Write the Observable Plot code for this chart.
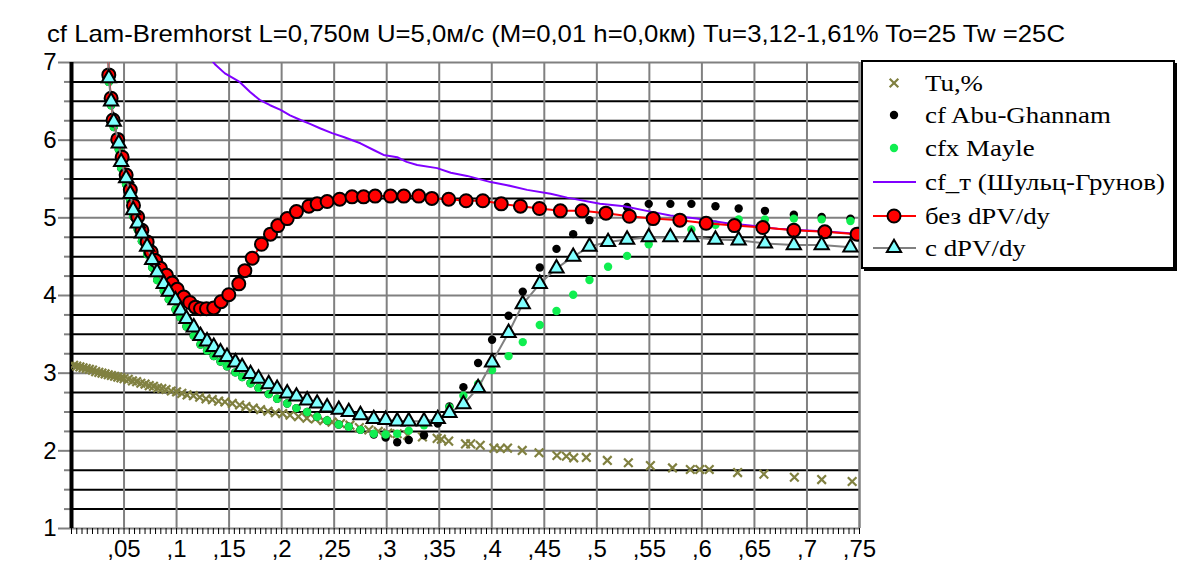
<!DOCTYPE html>
<html><head><meta charset="utf-8">
<script src="https://cdn.jsdelivr.net/npm/d3@7"></script>
<script src="https://cdn.jsdelivr.net/npm/@observablehq/plot@0.6"></script>
<style>
body{margin:0;background:#fff;}
#wrap{position:relative;width:1194px;height:571px;overflow:hidden;background:#fff;font-family:"Liberation Sans",Arial,sans-serif;}
#title{position:absolute;left:0;top:0;}
#chart{position:absolute;left:0;top:52px;}
#legend{position:absolute;left:861px;top:60px;}
</style></head><body>
<div id="wrap">
<div id="title"></div>
<div id="chart"></div>
<div id="legend"></div>
</div>
<script>
const titleText = "cf Lam-Bremhorst L=0,750м U=5,0м/с (M=0,01 h=0,0км) Tu=3,12-1,61% To=25 Tw =25C";

// ---- axis ticks ----
const xTicks = [0.05,0.1,0.15,0.2,0.25,0.3,0.35,0.4,0.45,0.5,0.55,0.6,0.65,0.7,0.75];
const xTickLabels = [",05",",1",",15",",2",",25",",3",",35",",4",",45",",5",",55",",6",",65",",7",",75"];
const yTicks = [1,2,3,4,5,6,7];
const yQuarterTicks = [1.25,1.5,1.75,2.25,2.5,2.75,3.25,3.5,3.75,4.25,4.5,4.75,5.25,5.5,5.75,6.25,6.5,6.75];

// ---- series: Tu,% ----
const tuX = [0.002,0.005,0.008,0.011,0.014,0.017,0.020,0.023,0.026,0.029,0.032,0.035,0.038,0.041,0.044,0.047,0.050,0.054,0.058,0.062,0.066,0.070,0.074,0.078,0.082,0.086,0.090,0.095,0.100,0.105,0.110,0.116,0.122,0.128,0.134,0.140,0.146,0.153,0.160,0.166,0.173,0.180,0.187,0.194,0.201,0.208,0.216,0.224,0.232,0.240,0.248,0.256,0.265,0.274,0.283,0.292,0.301,0.310,0.320,0.334,0.348,0.352,0.359,0.375,0.380,0.389,0.402,0.408,0.415,0.429,0.445,0.462,0.471,0.478,0.490,0.510,0.530,0.551,0.572,0.589,0.598,0.607,0.634,0.659,0.688,0.714,0.743];
const tuY = [3.10,3.09,3.08,3.07,3.06,3.05,3.04,3.02,3.01,3.00,2.99,2.98,2.97,2.96,2.95,2.94,2.93,2.92,2.90,2.89,2.87,2.86,2.84,2.83,2.81,2.80,2.79,2.77,2.76,2.74,2.72,2.71,2.69,2.67,2.66,2.64,2.63,2.61,2.59,2.57,2.55,2.53,2.51,2.49,2.48,2.46,2.44,2.42,2.41,2.39,2.37,2.35,2.33,2.30,2.27,2.25,2.23,2.22,2.20,2.18,2.16,2.15,2.125,2.09,2.09,2.07,2.035,2.03,2.035,2.005,1.975,1.94,1.93,1.91,1.915,1.876,1.847,1.81,1.78,1.76,1.76,1.76,1.72,1.70,1.66,1.63,1.605];

// ---- shared x for triangles / Abu-Ghannam / Mayle ----
const triX = [0.0345,0.0355,0.0377,0.0402,0.0450,0.0473,0.0520,0.0560,0.0587,0.0630,0.0670,0.0720,0.0768,0.0815,0.0878,0.0926,0.0990,0.1037,0.1094,0.1164,0.1228,0.1290,0.1354,0.1418,0.1480,0.1560,0.1624,0.1704,0.1780,0.1877,0.1957,0.2053,0.2141,0.2243,0.2338,0.2433,0.2544,0.2639,0.2750,0.2877,0.2990,0.3100,0.3210,0.3355,0.3486,0.3597,0.3730,0.3870,0.4003,0.4160,0.4295,0.4457,0.4616,0.4775,0.4930,0.5107,0.5288,0.5494,0.5700,0.5900,0.6129,0.6350,0.6600,0.6875,0.7140,0.7414];
// с dPV/dy
const triY = [7.40,6.80,6.50,6.24,5.96,5.72,5.51,5.31,5.10,4.93,4.80,4.63,4.46,4.30,4.15,4.05,3.94,3.81,3.70,3.59,3.48,3.41,3.34,3.27,3.21,3.14,3.08,2.99,2.93,2.86,2.80,2.74,2.70,2.65,2.61,2.56,2.53,2.50,2.46,2.41,2.40,2.38,2.38,2.38,2.41,2.49,2.60,2.81,3.14,3.52,3.89,4.15,4.35,4.50,4.63,4.69,4.72,4.75,4.75,4.75,4.72,4.71,4.67,4.65,4.65,4.62];
// cfx Mayle
const mayleY = [7.40,6.75,6.45,6.17,5.88,5.64,5.43,5.22,5.02,4.85,4.70,4.53,4.36,4.20,4.06,3.95,3.82,3.72,3.60,3.48,3.37,3.29,3.22,3.15,3.09,3.01,2.95,2.87,2.81,2.73,2.67,2.61,2.55,2.50,2.44,2.39,2.34,2.31,2.27,2.22,2.21,2.22,2.26,2.33,2.42,2.56,2.71,2.86,3.04,3.22,3.40,3.62,3.80,4.01,4.20,4.37,4.51,4.66,4.77,4.85,4.91,4.98,4.98,4.99,4.98,4.96];
// cf Abu-Ghannam
const abuY = [7.40,6.75,6.45,6.17,5.88,5.64,5.43,5.22,5.02,4.85,4.70,4.53,4.36,4.20,4.06,3.95,3.82,3.72,3.60,3.48,3.37,3.29,3.22,3.15,3.09,3.01,2.95,2.87,2.81,2.73,2.67,2.61,2.55,2.50,2.44,2.39,2.34,2.31,2.27,2.21,2.17,2.11,2.14,2.20,2.35,2.57,2.82,3.13,3.43,3.74,4.05,4.36,4.60,4.79,4.97,5.08,5.14,5.18,5.18,5.18,5.15,5.12,5.09,5.04,5.01,4.99];

// ---- без dPV/dy ----
const redX = [0.0345,0.0355,0.0377,0.0396,0.0440,0.0482,0.0520,0.0560,0.0590,0.0630,0.0670,0.0720,0.0758,0.0800,0.0847,0.0904,0.0958,0.1006,0.1069,0.1126,0.1180,0.1228,0.1285,0.1354,0.1424,0.1497,0.1592,0.1650,0.1720,0.1808,0.1894,0.1964,0.2053,0.2141,0.2259,0.2338,0.2433,0.2553,0.2670,0.2780,0.2890,0.3036,0.3163,0.3305,0.3430,0.3590,0.3756,0.3915,0.4090,0.4273,0.4454,0.4653,0.4860,0.5087,0.5310,0.5536,0.5790,0.6040,0.6310,0.6580,0.6875,0.7170,0.7477];
const redY = [7.40,6.84,6.54,6.26,6.01,5.78,5.55,5.36,5.16,5.01,4.84,4.69,4.56,4.45,4.35,4.26,4.16,4.08,3.98,3.91,3.85,3.83,3.83,3.84,3.92,4.01,4.15,4.32,4.48,4.66,4.79,4.90,4.99,5.08,5.15,5.18,5.21,5.24,5.27,5.27,5.28,5.28,5.28,5.28,5.25,5.24,5.22,5.22,5.18,5.15,5.12,5.09,5.09,5.06,5.02,4.99,4.97,4.93,4.90,4.875,4.84,4.82,4.79];

// ---- cf_т (Шульц-Грунов) ----
const sgX = [0.128,0.137,0.146,0.151,0.160,0.170,0.179,0.189,0.199,0.208,0.218,0.227,0.237,0.248,0.259,0.275,0.288,0.297,0.310,0.319,0.329,0.348,0.361,0.3765,0.399,0.4147,0.4337,0.456,0.4718,0.503,0.526,0.551,0.570,0.595,0.624,0.646,0.672,0.697,0.722,0.750];
const sgY = [7.12,6.97,6.86,6.82,6.75,6.62,6.52,6.45,6.39,6.32,6.26,6.21,6.15,6.09,6.04,5.96,5.87,5.81,5.78,5.72,5.68,5.64,5.58,5.54,5.46,5.42,5.36,5.31,5.26,5.18,5.15,5.08,5.03,4.99,4.93,4.90,4.86,4.84,4.82,4.79];

const legendItems = ["Tu,%","cf Abu-Ghannam","cfx Mayle","cf_т (Шульц-Грунов)","без dPV/dy","с dPV/dy"];

// colours
const cTu = "#808040", cAbu = "#000000", cMayle = "#10EE50", cSG = "#8000FF", cRed = "#FF0000", cGrey = "#808080", cTri = "#80FFFF";

// ---- title ----
const ts = d3.create("svg").attr("width", 1194).attr("height", 52);
ts.append("text").attr("x", 47).attr("y", 42)
  .attr("textLength", 1018).attr("lengthAdjust", "spacingAndGlyphs")
  .style("font-family", "'Liberation Sans', Arial, sans-serif").style("font-size", "24px")
  .text(titleText);
document.getElementById("title").appendChild(ts.node());

const pts = (xs, ys) => xs.map((x, i) => ({x, y: ys[i]}));
const tu = pts(tuX, tuY), tri = pts(triX, triY), mayle = pts(triX, mayleY), abu = pts(triX, abuY), red = pts(redX, redY), sg = pts(sgX, sgY);
const xMinor = d3.range(0, 151).map(i => i * 0.005);

const chart = Plot.plot({
  width: 1194, height: 519,
  marginTop: 10, marginBottom: 43, marginLeft: 71, marginRight: 335,
  x: {domain: [0, 0.75]},
  y: {domain: [1, 7]},
  style: {fontFamily: "'Liberation Sans', Arial, sans-serif", fontSize: "20px", background: "white", color: "black", overflow: "visible"},
  marks: [
    Plot.gridY(yQuarterTicks, {stroke: "black", strokeOpacity: 1, strokeWidth: 2}),
    Plot.gridX(xTicks, {stroke: cGrey, strokeOpacity: 1, strokeWidth: 2}),
    Plot.gridY(yTicks, {stroke: cGrey, strokeOpacity: 1, strokeWidth: 2}),
    Plot.ruleX([0.75], {stroke: cGrey, strokeWidth: 2}),
    Plot.axisY(yQuarterTicks, {label: null, tickSize: 7, stroke: cGrey, strokeWidth: 2, tickFormat: () => ""}),
    Plot.axisY(yTicks, {label: null, tickSize: 13, tickPadding: 2, stroke: cGrey, strokeWidth: 2, fill: "black", fontSize: 24, tickFormat: d => String(d)}),
    Plot.axisX(xMinor, {label: null, tickSize: 6, stroke: "black", strokeWidth: 1, tickFormat: () => ""}),
    Plot.axisX(xTicks, {label: null, tickSize: 0, tickPadding: 11, fill: "black", fontSize: 24, tickFormat: d => xTickLabels[xTicks.indexOf(d)]}),
    Plot.ruleX([0], {stroke: "black", strokeWidth: 4}),
    // data
    Plot.dot(tu, {x: "x", y: "y", symbol: "times", r: 4, stroke: cTu, strokeWidth: 2.2, clip: true}),
    Plot.dot(abu, {x: "x", y: "y", r: 4.2, fill: cAbu, stroke: null, clip: true}),
    Plot.dot(mayle, {x: "x", y: "y", r: 4.2, fill: cMayle, stroke: null, clip: true}),
    Plot.line(sg, {x: "x", y: "y", stroke: cSG, strokeWidth: 2, clip: true}),
    Plot.line(red, {x: "x", y: "y", stroke: cRed, strokeWidth: 2, clip: true}),
    Plot.dot(red, {x: "x", y: "y", r: 6.5, fill: cRed, stroke: "black", strokeWidth: 2, clip: true}),
    Plot.line(tri, {x: "x", y: "y", stroke: cGrey, strokeWidth: 2, clip: true}),
    Plot.dot(tri, {x: "x", y: "y", symbol: "triangle", r: 5.3, fill: cTri, stroke: "black", strokeWidth: 2, clip: true})
  ]
});
document.getElementById("chart").appendChild(chart);

// ---- legend ----
const lw = 313, lh = 208;
const ls = d3.create("svg").attr("width", lw + 4).attr("height", lh + 4)
  .style("font-family", "'Liberation Serif', 'Times New Roman', serif").style("font-size", "24px");
ls.append("rect").attr("x", 3).attr("y", 3).attr("width", lw).attr("height", lh).attr("fill", "black");
ls.append("rect").attr("x", 1).attr("y", 1).attr("width", lw - 1).attr("height", lh - 1).attr("fill", "white").attr("stroke", "black").attr("stroke-width", 2);
const rowY = [23, 55, 88, 122, 156, 188];
const sx = 33, l1 = 12, l2 = 55, tx = 64;
const sym = [
  g => g.append("path").attr("d", d3.symbol(d3.symbolTimes, 4*4*Math.PI)()).attr("stroke", cTu).attr("stroke-width", 2.2).attr("fill", "none"),
  g => g.append("circle").attr("r", 4.2).attr("fill", cAbu),
  g => g.append("circle").attr("r", 4.2).attr("fill", cMayle),
  g => g.append("line").attr("x1", l1 - sx).attr("x2", l2 - sx).attr("stroke", cSG).attr("stroke-width", 2),
  g => { g.append("line").attr("x1", l1 - sx).attr("x2", l2 - sx).attr("stroke", cRed).attr("stroke-width", 2);
         g.append("circle").attr("r", 6.5).attr("fill", cRed).attr("stroke", "black").attr("stroke-width", 2); },
  g => { g.append("line").attr("x1", l1 - sx).attr("x2", l2 - sx).attr("stroke", cGrey).attr("stroke-width", 2);
         g.append("path").attr("d", d3.symbol(d3.symbolTriangle, 5.3*5.3*Math.PI)()).attr("fill", cTri).attr("stroke", "black").attr("stroke-width", 2); }
];
legendItems.forEach((t, i) => {
  const g = ls.append("g").attr("transform", `translate(${sx},${rowY[i]})`);
  sym[i](g);
  ls.append("text").attr("transform", `translate(${tx},${rowY[i]}) scale(1.12,1)`).attr("dy", "0.35em").text(t);
});
document.getElementById("legend").appendChild(ls.node());
</script>
</body></html>
